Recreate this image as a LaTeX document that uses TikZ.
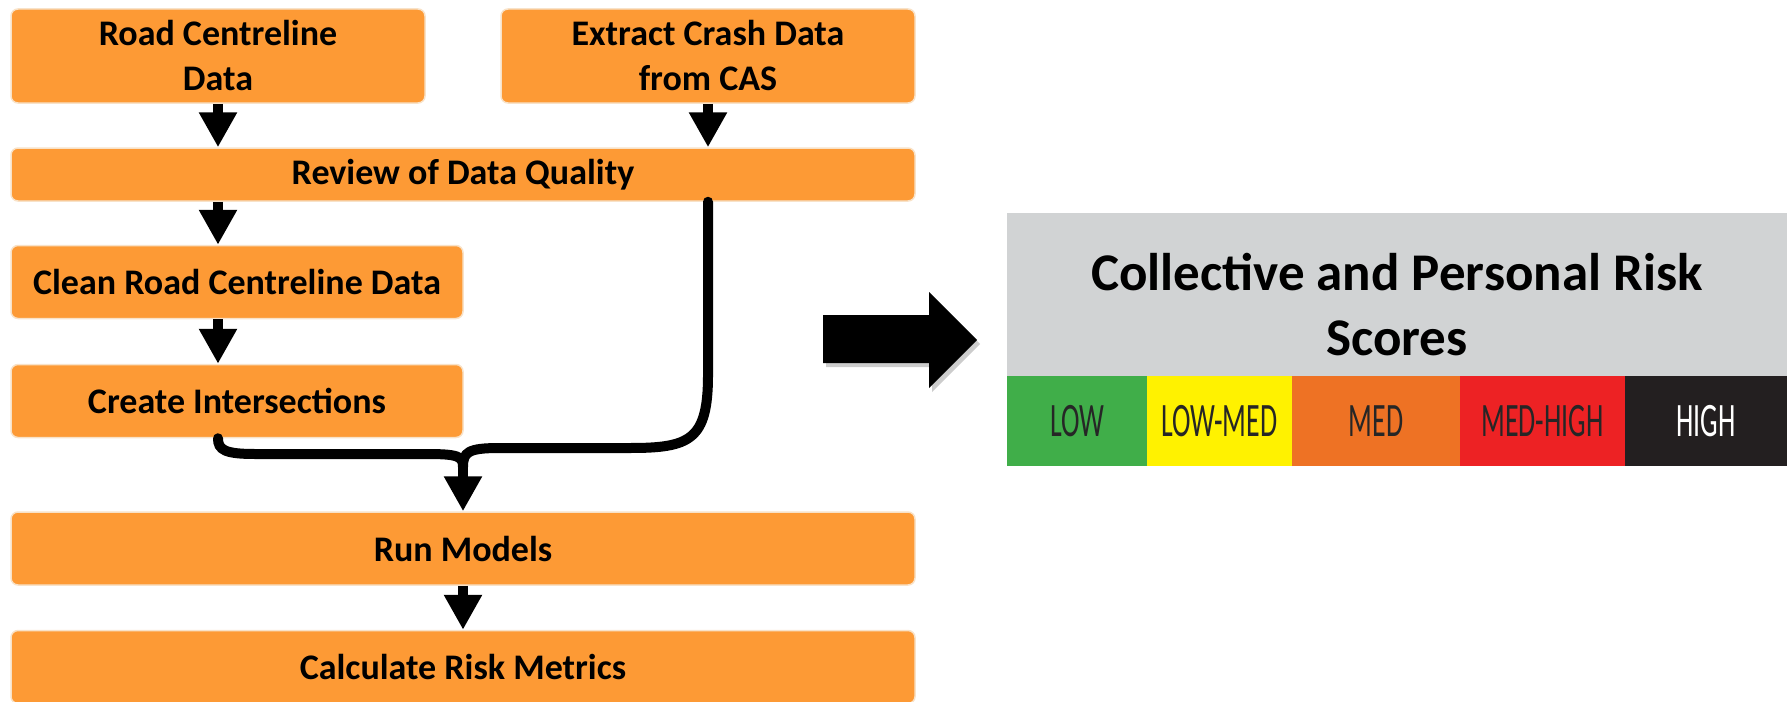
\documentclass[tikz,border=0pt]{standalone}
\usepackage{fontspec}
\setmainfont{Carlito}
\usepackage{tikz}
\usetikzlibrary{positioning, arrows.meta}

\definecolor{boxorange}{RGB}{253,154,53}
\definecolor{boxedge}{RGB}{248,226,200}
\definecolor{panelgrey}{RGB}{209,211,212}
\definecolor{riskgreen}{RGB}{64,174,73}
\definecolor{riskyellow}{RGB}{255,242,0}
\definecolor{riskorange}{RGB}{238,114,36}
\definecolor{riskred}{RGB}{237,34,36}
\definecolor{riskblack}{RGB}{35,31,32}

\begin{document}
\begin{tikzpicture}[x=1pt, y=-1pt]
			\tikzstyle{flowbox}=[draw=boxedge, line width=1.5pt, fill=boxorange, rounded corners=7pt, text=black, align=center, inner sep=0pt, font=\bfseries\fontsize{36}{45}\selectfont]
			\tikzstyle{flowarrow}=[line width=10pt, -{Triangle[width=36pt, length=35pt]}]
			\tikzstyle{flowline}=[line width=10pt, line cap=round]
			\tikzstyle{scorecell}=[minimum height=90pt, inner sep=0pt, outer sep=0pt, text=black!85, font=\fontsize{48}{58}\selectfont]
			
			\clip (0,0) rectangle (1787,701);
			
			\node (b1) at (218,56) [flowbox, minimum width=414pt, minimum height=94pt] {Road Centreline\\Data};
			\node (b2) at (708,56) [flowbox, minimum width=414pt, minimum height=94pt] {Extract Crash Data\\from CAS};
			\node (b3) at (463,174.5) [flowbox, minimum width=904pt, minimum height=53pt] {Review of Data Quality};
			\node (b4) at (237,282) [flowbox, minimum width=452pt, minimum height=73pt] {Clean Road Centreline Data};
			\node (b5) at (237,401) [flowbox, minimum width=452pt, minimum height=73pt] {Create Intersections};
			\node (b6) at (463,548.5) [flowbox, minimum width=904pt, minimum height=73pt] {Run Models};
			\node (b7) at (463,667) [flowbox, minimum width=904pt, minimum height=73pt] {Calculate Risk Metrics};
			
			\draw [flowarrow] (b1.south) -- (b1.south |- b3.north);
			\draw [flowarrow] (b2.south) -- (b2.south |- b3.north);
			\draw [flowarrow] (b3.south -| b1.south) -- (b4.north -| b1.south);
			\draw [flowarrow] (b4.south -| b1.south) -- (b5.north -| b1.south);
			
			\coordinate (join) at (463,467);
			\draw [flowline] (b5.south -| b1.south) .. controls (218,450) and (225,454) .. (255,454) -- (425,454) .. controls (458,454) and (463,456) .. (join);
			\draw [flowline] (b3.south -| b2.south) -- (708,375) .. controls (708,440) and (690,448) .. (630,448) -- (500,448) .. controls (468,448) and (463,452) .. (join);
			\draw [flowarrow] (join) -- (b6.north);
			\draw [flowarrow] (b6.south) -- (b7.north);
			
			\fill [black!20, xshift=3pt, yshift=-4pt] (823,315) -- (929,315) -- (929,292) -- (977,340) -- (929,388) -- (929,363) -- (823,363) -- cycle;
			\fill [black] (823,315) -- (929,315) -- (929,292) -- (977,340) -- (929,388) -- (929,363) -- (823,363) -- cycle;
			
			\node (panel) at (1397,294.5) [fill=panelgrey, minimum width=780pt, minimum height=163pt, inner sep=0pt] {};
			\node (title) at ([yshift=-10pt]panel.center) [align=center, font=\bfseries\fontsize{53}{65}\selectfont] {Collective and Personal Risk\\Scores};
			
			\node (low) at (1077,421) [scorecell, fill=riskgreen, minimum width=140pt] {\scalebox{0.58}[1]{LOW}};
			\node (lowmed) [scorecell, fill=riskyellow, minimum width=145pt, right=0pt of low] {\scalebox{0.58}[1]{LOW-MED}};
			\node (med) [scorecell, fill=riskorange, minimum width=168pt, right=0pt of lowmed] {\scalebox{0.58}[1]{MED}};
			\node (medhigh) [scorecell, fill=riskred, minimum width=165pt, right=0pt of med] {\scalebox{0.58}[1]{MED-HIGH}};
			\node (high) [scorecell, fill=riskblack, minimum width=162pt, text=white, right=0pt of medhigh] {\scalebox{0.58}[1]{HIGH}};
\end{tikzpicture}
\end{document}
